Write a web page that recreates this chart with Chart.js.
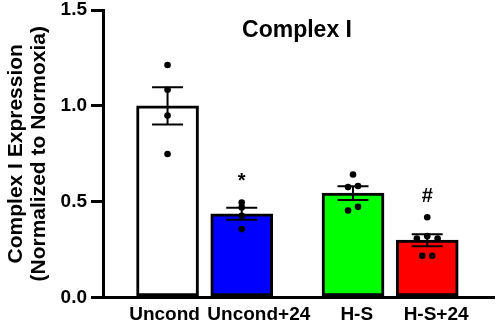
<!DOCTYPE html>
<html>
<head>
<meta charset="utf-8">
<script src="https://cdn.jsdelivr.net/npm/chart.js@4"></script>
<style>
html, body { margin: 0; padding: 0; background: #fff; }
#wrap { width: 498px; height: 325px; }
</style>
</head>
<body>
<div id="wrap"><canvas id="complexI"></canvas></div>
<script>
// values
const groups = ['Uncond', 'Uncond+24', 'H-S', 'H-S+24'];
const means = [1.0, 0.437, 0.545, 0.299];
const sems = [0.097, 0.031, 0.036, 0.031];
const marks = ['', '*', '', '#'];
const pts_Uncond = [1.213, 1.084, 0.949, 0.749];
const pts_Uncond24 = [0.496, 0.470, 0.426, 0.357];
const pts_HS = [0.642, 0.576, 0.582, 0.454, 0.473];
const pts_HS24 = [0.419, 0.308, 0.320, 0.308, 0.218, 0.218];
const yTicks = [0, 0.5, 1.0, 1.5];

// layout: where groups sit on the x axis, dot jitter, label nudges
const groupPos = [0, 1, 2.5, 3.5];
const jitter = [
  [0, 0, 0, 0],
  [0, 0, 0, 0],
  [0, -0.067, 0.067, -0.067, 0.067],
  [0, -0.14, 0, 0.14, -0.067, 0.067]
];
const labelNudge = [-0.04, 0.23, 0.05, 0.12];
const barColors = ['#ffffff', '#0000ff', '#00ff00', '#ff0000'];

const allPts = [pts_Uncond, pts_Uncond24, pts_HS, pts_HS24];
const dots = [];
allPts.forEach((arr, g) => {
  arr.forEach((v, k) => dots.push({x: groupPos[g] + jitter[g][k], y: v}));
});

Chart.defaults.font.family = '"Liberation Sans", Arial, sans-serif';
Chart.defaults.font.weight = 'bold';
Chart.defaults.color = '#000';

const errorBars = {
  id: 'errorBars',
  afterDatasetDraw(chart, args) {
    if (args.meta.type !== 'bar') return;
    const {ctx, scales: {x, y}} = chart;
    ctx.save();
    ctx.strokeStyle = '#000';
    ctx.lineWidth = 2;
    means.forEach((m, i) => {
      const px = x.getPixelForValue(groupPos[i]);
      const hi = y.getPixelForValue(m + sems[i]);
      const lo = y.getPixelForValue(m - sems[i]);
      ctx.beginPath();
      ctx.moveTo(px, hi); ctx.lineTo(px, lo);
      ctx.moveTo(px - 15.5, hi); ctx.lineTo(px + 15.5, hi);
      ctx.moveTo(px - 15.5, lo); ctx.lineTo(px + 15.5, lo);
      ctx.stroke();
    });
    ctx.restore();
  },
  afterDraw(chart) {
    const {ctx, scales: {x, y}} = chart;
    ctx.save();
    ctx.fillStyle = '#000';
    ctx.textAlign = 'center';
    ctx.textBaseline = 'alphabetic';
    ctx.font = 'bold 23px "Liberation Sans", Arial, sans-serif';
    ctx.fillText('Complex I', 297, 37);
    ctx.font = 'bold 20px "Liberation Sans", Arial, sans-serif';
    marks.forEach((m, i) => {
      if (!m) return;
      const top = y.getPixelForValue(Math.max(...allPts[i]));
      ctx.fillText(m, x.getPixelForValue(groupPos[i]), top - 15.5);
    });
    ctx.restore();
  }
};

const ctx_complexI = document.getElementById('complexI').getContext('2d');

const chart_complexI = new Chart(ctx_complexI, {
  type: 'bar',
  data: {
    datasets: [
      {
        type: 'scatter',
        order: 0,
        data: dots,
        pointRadius: 3.3,
        pointBackgroundColor: '#000',
        pointBorderWidth: 0
      },
      {
        type: 'bar',
        order: 1,
        data: means.map((m, i) => ({x: groupPos[i], y: m})),
        backgroundColor: barColors,
        borderColor: '#000',
        borderWidth: 3,
        borderSkipped: false,
        barThickness: 62
      }
    ]
  },
  options: {
    responsive: true,
    maintainAspectRatio: false,
    animation: false,
    layout: { padding: { top: 10, right: 2, left: 0, bottom: 0 } },
    plugins: { legend: { display: false }, tooltip: { enabled: false } },
    scales: {
      x: {
        type: 'linear',
        min: -0.87,
        max: 4.4,
        offset: false,
        grid: { display: false, drawTicks: false },
        border: { display: true, color: '#000', width: 3, z: 1 },
        afterBuildTicks(scale) {
          scale.ticks = groupPos.map((p, i) => ({ value: p + labelNudge[i] }));
        },
        afterFit(scale) {
          scale.height = 27.5;
          scale.paddingLeft = 0;
          scale.paddingRight = 0;
        },
        ticks: {
          autoSkip: false,
          maxRotation: 0,
          padding: 6,
          font: { size: 19, weight: 'bold' },
          callback: (v, i) => groups[i]
        }
      },
      y: {
        min: 0,
        max: 1.5,
        grid: { drawOnChartArea: false, tickLength: 12, lineWidth: 3, color: '#000' },
        border: { display: true, color: '#000', width: 3, z: 1 },
        afterBuildTicks(scale) {
          scale.ticks = yTicks.map(v => ({ value: v }));
        },
        afterFit(scale) {
          scale.width = 103;
          scale.paddingTop = 0;
          scale.paddingBottom = 0;
        },
        ticks: {
          padding: 4,
          font: { size: 19, weight: 'bold' },
          callback: v => v.toFixed(1)
        },
        title: {
          display: true,
          text: ['Complex I Expression', '(Normalized to Normoxia)'],
          font: { size: 21, weight: 'bold', lineHeight: 1.1 },
          padding: { top: 4.5, bottom: 0 }
        }
      }
    }
  },
  plugins: [errorBars]
});
</script>
</body>
</html>
